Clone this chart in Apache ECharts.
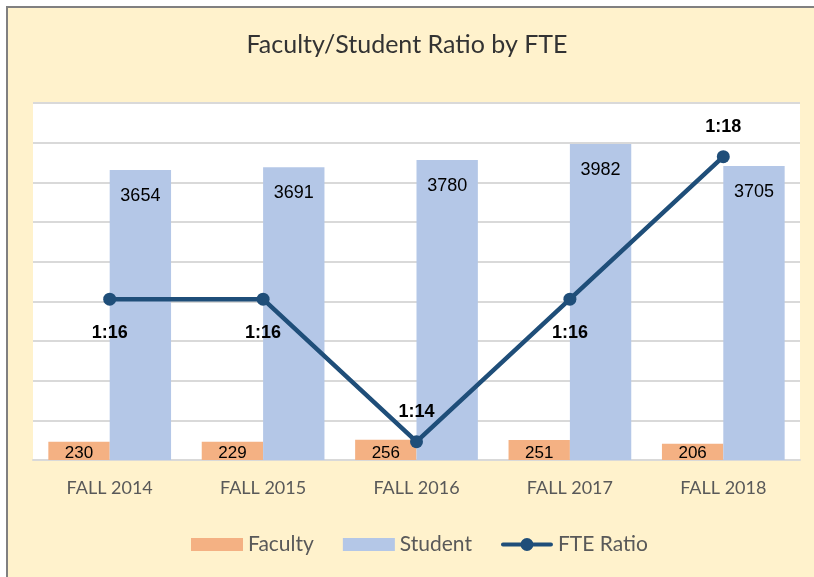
<!DOCTYPE html>
<html>
<head>
<meta charset="utf-8">
<script src="https://cdn.jsdelivr.net/npm/echarts@6/dist/echarts.min.js"></script>
<style>
html,body{margin:0;padding:0;background:#fff;}
#frame{position:absolute;left:6px;top:6px;width:808px;height:571px;background:#FFF2CC;border-top:2px solid #808080;border-left:2px solid #808080;box-sizing:border-box;}
#chart{position:absolute;left:0;top:0;width:814px;height:577px;}
</style>
</head>
<body>
<div id="frame"></div>
<div id="chart"></div>
<script>
const categories = ['FALL 2014', 'FALL 2015', 'FALL 2016', 'FALL 2017', 'FALL 2018'];
const faculty = [230, 229, 256, 251, 206];
const student = [3654, 3691, 3780, 3982, 3705];
const fteRatio = [16, 16, 14, 16, 18];
const ratioLabelPos = ['bottom', 'bottom', 'top', 'bottom', 'top'];

const chart = echarts.init(document.getElementById('chart'));
const gray = '#595959';
const lineIcon = 'path://M2,4.5 L50,4.5 A2,2 0 0 1 50,8.5 L2,8.5 A2,2 0 0 1 2,4.5 Z M19.5,6.5 A6.5,6.5 0 1 1 32.5,6.5 A6.5,6.5 0 1 1 19.5,6.5 Z';
chart.setOption({
  backgroundColor: 'transparent',
  animation: false,
  title: {
    text: 'Faculty/Student Ratio by FTE',
    left: 'center',
    top: 27,
    textStyle: {fontFamily: 'Lato', fontWeight: 'normal', fontSize: 25, color: '#333'}
  },
  legend: {
    bottom: 17,
    left: 186,
    itemWidth: 52,
    itemHeight: 13,
    itemGap: 29,
    textStyle: {fontFamily: 'Lato', fontSize: 21, color: gray},
    data: [
      {name: 'Faculty', icon: 'rect'},
      {name: 'Student', icon: 'rect'},
      {name: 'FTE Ratio', icon: lineIcon, itemStyle: {color: '#1F4E79', borderWidth: 0}}
    ]
  },
  grid: {left: 33, right: 14, top: 103, bottom: 117, show: true, backgroundColor: '#ffffff', borderWidth: 0},
  xAxis: {
    type: 'category',
    data: categories,
    axisTick: {show: false},
    axisLine: {lineStyle: {color: '#d9d9d9', width: 2}},
    axisLabel: {fontFamily: 'Lato', fontSize: 18, color: gray, margin: 19}
  },
  yAxis: [
    {type: 'value', min: 0, max: 4500, interval: 500,
     axisLabel: {show: false}, axisLine: {show: false}, axisTick: {show: false},
     splitLine: {lineStyle: {color: '#d9d9d9', width: 2}}},
    {type: 'value', min: 13.743, max: 18.754, show: false, splitLine: {show: false}}
  ],
  series: [
    {
      name: 'Faculty', type: 'bar', data: faculty, barGap: '0%', barCategoryGap: '20%',
      itemStyle: {color: '#F4B183'},
      label: {show: true, position: 'insideBottom', distance: 0, offset: [0, 2],
        fontFamily: 'Liberation Sans', fontSize: 17, color: '#000'}
    },
    {
      name: 'Student', type: 'bar', data: student,
      itemStyle: {color: '#B4C7E7'},
      label: {show: true, position: 'insideTop', distance: 17,
        fontFamily: 'Liberation Sans', fontSize: 18, color: '#000'}
    },
    {
      name: 'FTE Ratio', type: 'line', yAxisIndex: 1,
      data: fteRatio.map((v, i) => ({value: v, label: {position: ratioLabelPos[i], distance: ratioLabelPos[i] === 'top' ? 14 : 18}})),
      symbol: 'circle', symbolSize: 13,
      lineStyle: {color: '#1F4E79', width: 4.5},
      itemStyle: {color: '#1F4E79'},
      label: {show: true, formatter: p => '1:' + p.value,
        fontFamily: 'Liberation Sans', fontWeight: 'bold', fontSize: 18, color: '#000'}
    }
  ]
});
</script>
</body>
</html>
